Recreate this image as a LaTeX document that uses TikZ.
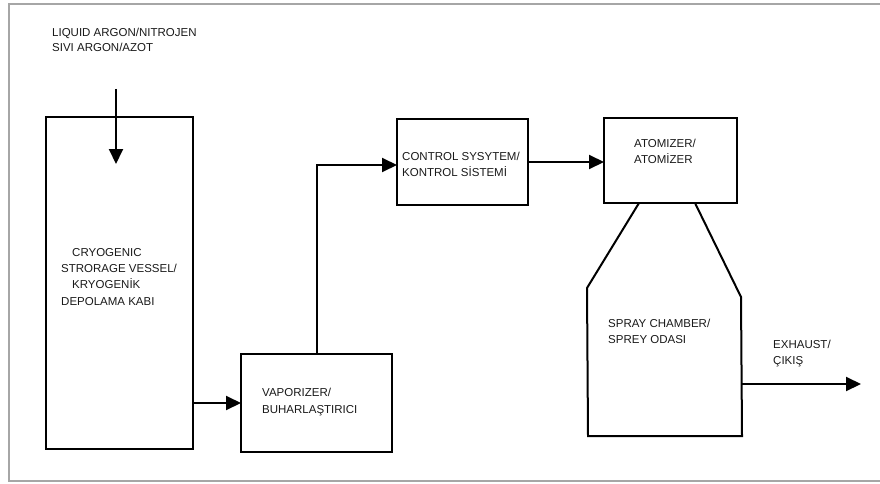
\documentclass[tikz,border=0pt]{standalone}
\usepackage{fontspec}
\setmainfont{Liberation Sans}
\usetikzlibrary{arrows.meta}
\tikzset{
  blk/.style={draw=black, line width=2pt, inner sep=0pt, outer sep=0pt, anchor=north west},
  arr/.style={line width=2pt, -{Triangle[length=15pt,width=14pt]}},
  wall/.style={line width=2pt, line join=miter},
  lbl/.style={anchor=base west, inner sep=0pt, font=\fontsize{11.5}{14}\selectfont, text=black!90},
}
\begin{document}
\begin{tikzpicture}[x=1pt,y=-1pt]
\useasboundingbox (0,0) rectangle (880,484);
% frame
\draw[gray!70, line width=1.5pt] (9,4) rectangle (884,481);

% boxes
\node[blk, minimum width=147pt, minimum height=332pt] (vessel) at (46,117) {};
\node[blk, minimum width=151pt, minimum height=98pt] (vap) at (241,354) {};
\node[blk, minimum width=131pt, minimum height=86pt] (ctrl) at (397,119) {};
\node[blk, minimum width=133pt, minimum height=85pt] (atom) at (604,118) {};

% spray chamber
\coordinate (neckL) at (639,203);
\coordinate (shL) at (587,288);
\coordinate (botL) at (588,436);
\coordinate (botR) at (742,436);
\coordinate (shR) at (741,297);
\coordinate (neckR) at (695,203);
\draw[wall] (neckL) -- (shL) -- (botL) -- (botR) -- (shR) -- (neckR);

% labels
\node[lbl] (t1) at (52,37) {LIQUID ARGON/NITROJEN};
\node[lbl] (t2) at (52,52) {SIVI ARGON/AZOT};

\node[lbl] (c1) at (72,256) {CRYOGENIC};
\node[lbl] (c2) at (61,272) {STRORAGE VESSEL/};
\node[lbl] (c3) at (72,288) {KRYOGENİK};
\node[lbl] (c4) at (61,305) {DEPOLAMA KABI};

\node[lbl] (v1) at (262,396) {VAPORIZER/};
\node[lbl] (v2) at (262,413) {BUHARLAŞTIRICI};

\node[lbl] (k1) at (402,160) {CONTROL SYSYTEM/};
\node[lbl] (k2) at (402,176) {KONTROL SİSTEMİ};

\node[lbl] (a1) at (634,147) {ATOMIZER/};
\node[lbl] (a2) at (634,163) {ATOMİZER};

\node[lbl] (s1) at (608,327) {SPRAY CHAMBER/};
\node[lbl] (s2) at (608,343) {SPREY ODASI};

\node[lbl] (e1) at (773,348) {EXHAUST/};
\node[lbl] (e2) at (773,364) {ÇIKIŞ};

% connectors
\coordinate (inletA) at (116,89);
\coordinate (inletB) at (116,164);
\draw[arr] (inletA) -- (inletB);
\draw[arr] (vessel.east |- vap.west) -- (vap.west);
\draw[arr] (vap.north) |- ([yshift=-3pt]ctrl.west);
\draw[arr] (ctrl.east) -- (ctrl.east -| atom.west);
\coordinate (exA) at (742,384);
\coordinate (exB) at (861,384);
\draw[arr] (exA) -- (exB);
\end{tikzpicture}
\end{document}
